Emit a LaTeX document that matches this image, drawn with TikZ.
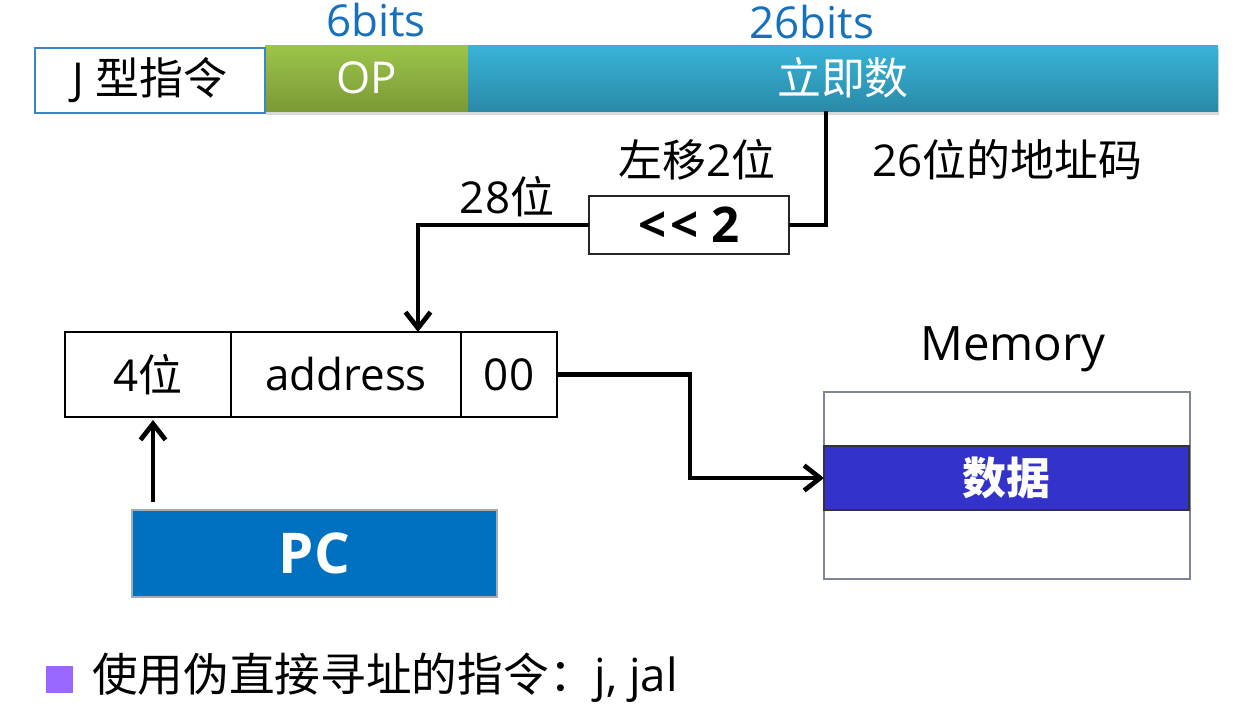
\documentclass[tikz,border=0pt]{standalone}
\usepackage{fontspec}
\setmainfont{Open Sans}
\newfontfamily\cjk{Noto Sans CJK SC}
\usetikzlibrary{arrows.meta,fit,shadows,calc}
\definecolor{lblue}{HTML}{1670C0}
\definecolor{jborder}{HTML}{3D85C6}
\definecolor{opTop}{HTML}{9DC44A}
\definecolor{opBot}{HTML}{7A9A36}
\definecolor{imTop}{HTML}{38B4D8}
\definecolor{imBot}{HTML}{2A8AA8}
\definecolor{pcblue}{HTML}{0070C0}
\definecolor{datablue}{HTML}{3333CC}
\definecolor{memgray}{HTML}{7F8796}
\definecolor{bpurple}{HTML}{9966FF}
\begin{document}
\begin{tikzpicture}[x=0.02cm,y=-0.02cm,
  font=\fontsize{25}{30}\selectfont,
  box/.style={inner sep=0pt, outer sep=0pt},
  bar/.style={box, drop shadow={shadow xshift=0.5pt, shadow yshift=-2.5pt, opacity=0.3}},
  cell/.style={box, draw=black, line width=0.9pt},
  wire/.style={line width=2.7pt},
  arr/.style={wire, -{Straight Barb[length=0.32cm,width=0.5cm,line width=2.7pt]}}]
\useasboundingbox (0,0) rectangle (1250,710);
% instruction format
\node[bar, top color=opTop, bottom color=opBot, fit={(265,45) (468,111)}] (op) {};
\node[bar, top color=imTop, bottom color=imBot, fit={(468,45) (1218,111)}] (imm) {};
\node[box, fill=white, draw=jborder, line width=1.3pt, fit={(35,48) (265,113)}] (jt) {};
\node[text=white] (opt) at (op.center) {OP};
\node[text=white] (immt) at (imm.center) {\cjk 立即数};
\node (jtt) at (jt.center) {J {\cjk 型指令}};
\node[text=lblue] (b6) at (376,20) {6bits};
\node[text=lblue] (b26) at (812,22) {26bits};
% shift
\node[cell, draw=black!85, fit={(589,196) (789,254)}] (shift) {};
\node (shiftt) at (shift.center) {\fontsize{28}{32}\selectfont\bfseries \textless\kern2pt\textless\ 2};
\node (l2) at (697,160) {{\cjk 左移}2{\cjk 位}};
\node[anchor=west] (a26) at (866,160) {26{\cjk 位的地址码}};
\node (w28) at (507,197) {28{\cjk 位}};
% register
\node[cell, fit={(65,332) (231,417)}] (r1) {};
\node[cell, fit={(231,332) (461,417)}] (r2) {};
\node[cell, fit={(461,332) (557,417)}] (r3) {};
\node (r1t) at (r1.center) {4{\cjk 位}};
\node (r2t) at (r2.center) {address};
\node (r3t) at (r3.center) {00};
% PC
\node[box, fill=pcblue, draw=memgray!70, line width=0.8pt, fit={(132,510) (497,597)}] (pc) {};
\node[text=white] (pct) at (pc.center) {\fontsize{32}{36}\selectfont\bfseries PC};
% memory
\node (memlbl) at (1013,349) {\fontsize{27}{32}\selectfont Memory};
\node[box, draw=memgray, line width=1.1pt, fill=white, fit={(824,392) (1190,579)}] (mem) {};
\node[box, fill=datablue, draw=black!80, line width=0.9pt, fit={(824,446) (1189,510)}] (data) {};
\node[text=white] (datat) at (data.center) {\cjk\bfseries 数据};
% connectors
\coordinate (tapx) at (826,0);
\coordinate (downx) at (418,0);
\coordinate (pcx) at (153,0);
\draw[wire] (tapx |- imm.south) |- (shift.east);
\draw[arr] (shift.west) -| (downx |- r2.north);
\draw[arr] (r3.east) -- ++(133,0) |- (data.west);
\draw[arr] ($(pcx |- pc.north)+(0,-8)$) -- ($(pcx |- r1.south)+(0,3)$);
% bullet
\node[box, fill=bpurple, minimum size=0.54cm] (bul) at (59.5,679.5) {};
\node[anchor=west] (btxt) at (86,678) {\fontsize{26}{30}\selectfont{\cjk 使用伪直接寻址的指令：}j, jal};
\end{tikzpicture}
\end{document}
